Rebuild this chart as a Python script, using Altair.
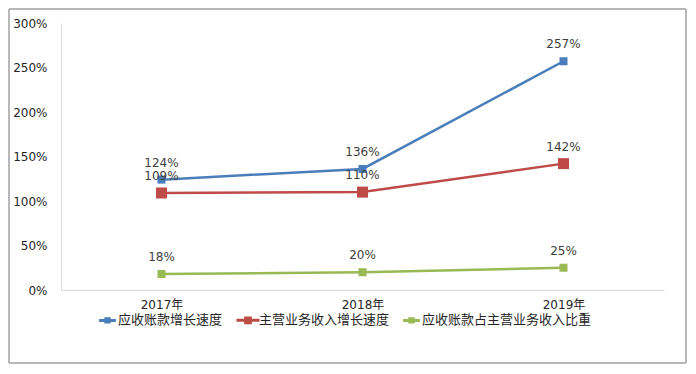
import altair as alt
import pandas as pd

years = ["2017年", "2018年", "2019年"]
series_names = ["应收账款增长速度", "主营业务收入增长速度", "应收账款占主营业务收入比重"]
ar_growth = [124, 136, 257]
rev_growth = [109, 110, 142]
ar_ratio = [18, 20, 25]
y_ticks = [0, 50, 100, 150, 200, 250, 300]

colors = ["#4A7EBB", "#BE4B48", "#98B954"]
marker_sizes = [64, 121, 64]

rows = []
for name, vals in zip(series_names, [ar_growth, rev_growth, ar_ratio]):
    for yr, v in zip(years, vals):
        rows.append({"year": yr, "series": name, "marker": name, "value": v, "label": f"{v}%"})
df = pd.DataFrame(rows)

FONT = "DejaVu Sans, Noto Sans CJK SC"

legend_path = "M -2.1 0 L 2.1 0 M -0.42 -0.42 L 0.42 -0.42 L 0.42 0.42 L -0.42 0.42 Z"

color_scale = alt.Scale(domain=series_names, range=colors)

x_enc = alt.X(
    "year:N",
    sort=years,
    scale=alt.Scale(padding=0.5),
    axis=alt.Axis(
        title=None, labelAngle=0, ticks=False, grid=False, domainColor="#d9d9d9",
        labelFont=FONT, labelFontSize=12, labelColor="#262626", labelPadding=9,
    ),
)
y_enc = alt.Y(
    "value:Q",
    scale=alt.Scale(domain=[0, 300], nice=False),
    axis=alt.Axis(
        title=None, values=y_ticks, grid=False, ticks=False, domainColor="#d9d9d9",
        labelExpr="datum.value + '%'", labelFont=FONT, labelFontSize=12,
        labelColor="#262626", labelPadding=14,
    ),
)

base = alt.Chart(df)

lines = base.mark_line(strokeWidth=2.5).encode(
    x=x_enc,
    y=y_enc,
    color=alt.Color(
        "series:N",
        scale=color_scale,
        sort=series_names,
        legend=alt.Legend(
            title=None,
            orient="none",
            legendX=40,
            legendY=290,
            direction="horizontal",
            symbolType=legend_path,
            symbolSize=625,
            symbolStrokeWidth=3,
            labelFont=FONT,
            labelFontSize=13,
            labelColor="#262626",
            labelOffset=4,
            labelLimit=300,
            columnPadding=7,
        ),
    ),
    detail="series:N",
)

points = base.mark_point(shape="square", filled=True, opacity=1).encode(
    x=x_enc,
    y=y_enc,
    color=alt.Color("series:N", scale=color_scale, sort=series_names, legend=None),
    size=alt.Size(
        "marker:N",
        scale=alt.Scale(type="ordinal", domain=series_names, range=marker_sizes),
        legend=None,
    ),
)

labels = base.mark_text(dy=-17, fontSize=12, font=FONT, color="#404040").encode(
    x=x_enc,
    y=y_enc,
    text="label:N",
)

one = pd.DataFrame({"a": [0]})
rule_style = dict(stroke="#a0a0a0", strokeWidth=1.5, clip=False)
b_top = alt.Chart(one).mark_rule(**rule_style).encode(
    x=alt.value(-52), x2=alt.value(625), y=alt.value(-14)
)
b_bottom = alt.Chart(one).mark_rule(**rule_style).encode(
    x=alt.value(-52), x2=alt.value(625), y=alt.value(340)
)
b_left = alt.Chart(one).mark_rule(**rule_style).encode(
    x=alt.value(-52), y=alt.value(-14), y2=alt.value(340)
)
b_right = alt.Chart(one).mark_rule(**rule_style).encode(
    x=alt.value(625), y=alt.value(-14), y2=alt.value(340)
)

chart = (
    alt.layer(b_top, b_bottom, b_left, b_right, lines, points, labels)
    .properties(
        width=603,
        height=267,
        autosize=alt.AutoSizeParams(type="none"),
        padding={"left": 53, "top": 15, "right": 24, "bottom": 76},
        background="white",
    )
    .configure_view(stroke=None, strokeWidth=0)
)

chart.save("out.html", embed_options={"renderer": "svg", "actions": False})
